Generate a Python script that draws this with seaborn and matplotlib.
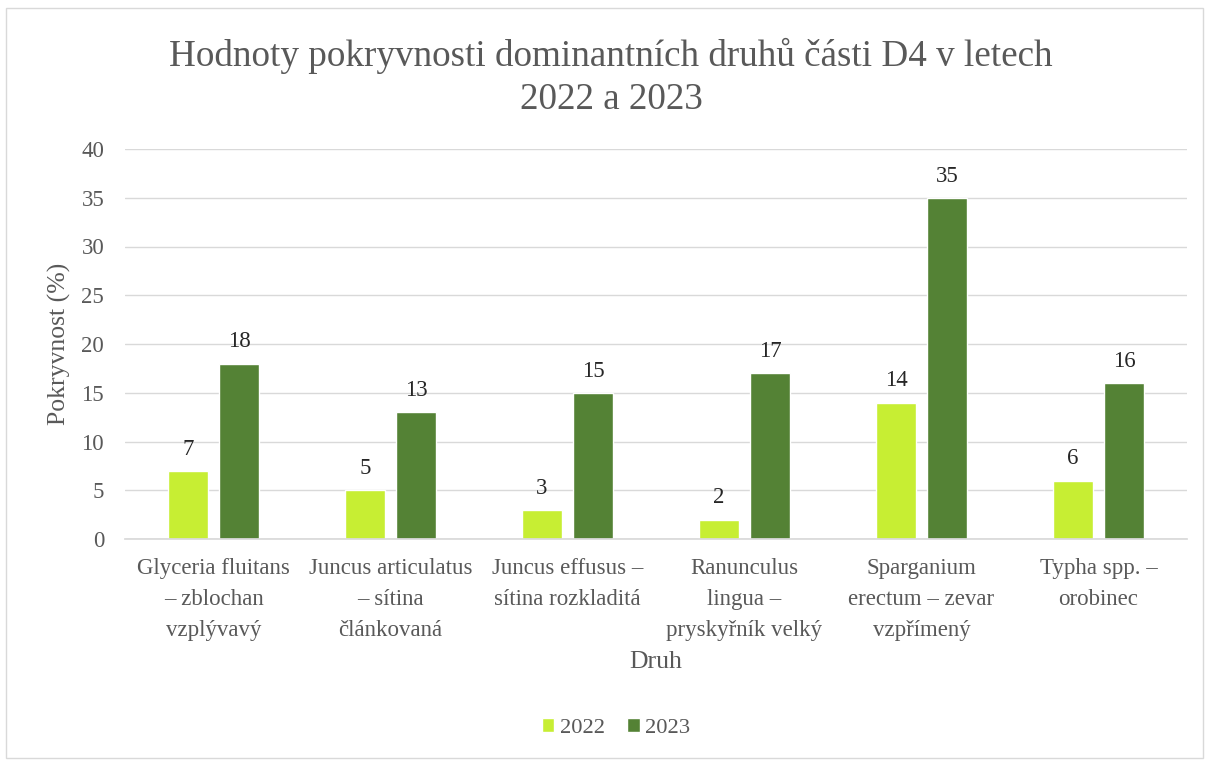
import pandas as pd
import matplotlib.pyplot as plt
import seaborn as sns
from matplotlib.patches import Rectangle

species = [
    "Glyceria fluitans\n– zblochan\nvzplývavý",
    "Juncus articulatus\n– sítina\nčlánkovaná",
    "Juncus effusus –\nsítina rozkladitá",
    "Ranunculus\nlingua –\npryskyřník velký",
    "Sparganium\nerectum – zevar\nvzpřímený",
    "Typha spp. –\norobinec",
]
cover_2022 = [7, 5, 3, 2, 14, 6]
cover_2023 = [18, 13, 15, 17, 35, 16]
years = ["2022", "2023"]

df = pd.DataFrame({
    "Druh": species * 2,
    "Rok": [years[0]] * len(species) + [years[1]] * len(species),
    "Pokryvnost": cover_2022 + cover_2023,
})

sns.set_theme(style="white")
plt.rcParams['font.family'] = ['Liberation Serif', 'DejaVu Serif']
grey = "#595959"

fig = plt.figure(figsize=(12.07, 7.6), dpi=100)
ax = fig.add_axes([125 / 1207, 1 - 539 / 760, (1187 - 125) / 1207, (539 - 149) / 760])

sns.barplot(data=df, x="Druh", y="Pokryvnost", hue="Rok",
            palette=["#C7EE33", "#548235"], width=0.576, gap=0.216,
            saturation=1, ax=ax)

for c in ax.containers:
    ax.bar_label(c, padding=8, fontsize=16.5, color="#262626")

ax.set_ylim(0, 40)
ax.set_yticks(range(0, 41, 5))
ax.yaxis.grid(True, color="#D9D9D9", linewidth=1)
ax.set_axisbelow(True)
for s in ["top", "right", "left"]:
    ax.spines[s].set_visible(False)
ax.spines["bottom"].set_color("#D9D9D9")
ax.tick_params(axis="both", length=0, labelsize=16.5, labelcolor=grey)
ax.tick_params(axis="x", pad=14)
ax.tick_params(axis="y", pad=15)
for lab in ax.get_xticklabels():
    lab.set_linespacing(1.6)

ax.set_xlabel("Druh", fontsize=18.5, color=grey)
ax.set_ylabel("Pokryvnost (%)", fontsize=18.5, color=grey)
ax.xaxis.set_label_coords(0.5, (539 - 651) / 390)
ax.yaxis.set_label_coords((71 - 125) / 1062, 0.5)

fig.suptitle("Hodnoty pokryvnosti dominantních druhů části D4 v letech\n2022 a 2023",
             x=611 / 1207, y=1 - 38 / 760, va="top",
             fontsize=26.7, color=grey, linespacing=1.32)

ax.legend(loc="center", bbox_to_anchor=(616 / 1207, 1 - 728 / 760),
          bbox_transform=fig.transFigure, ncol=2, frameon=False,
          fontsize=16.2, labelcolor=grey, handlelength=0.55, handleheight=0.55,
          handletextpad=0.25, columnspacing=1.0)

fig.patches.append(Rectangle((6 / 1207, 2 / 760), 1197 / 1207, 750 / 760,
                             transform=fig.transFigure, fill=False,
                             edgecolor="#D9D9D9", linewidth=1))

fig.savefig("out.png", dpi=100)
